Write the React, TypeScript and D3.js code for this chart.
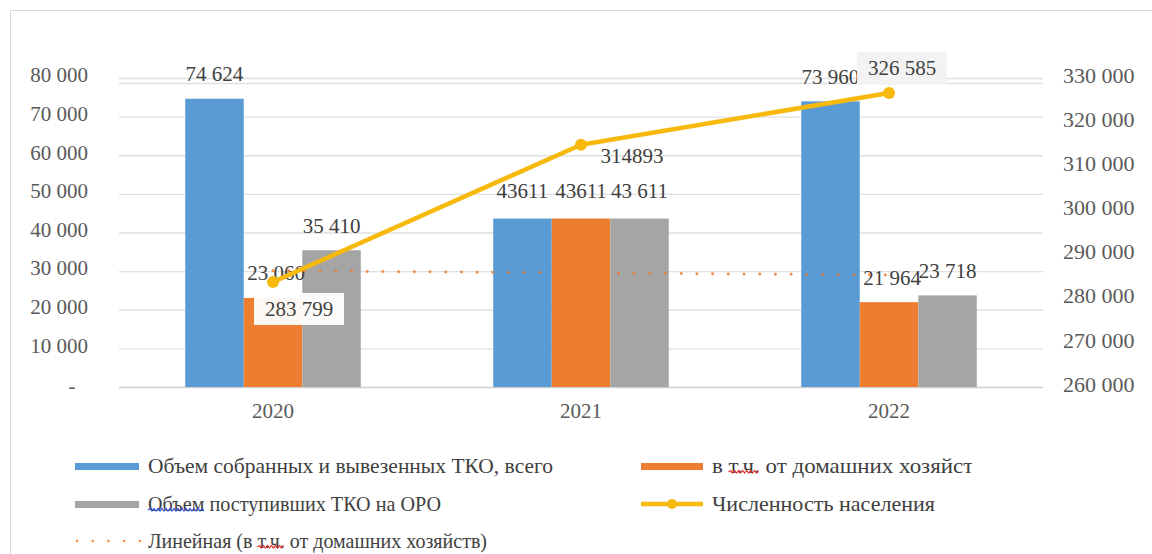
import React, { useLayoutEffect, useRef, useState } from 'react';
import * as d3 from 'd3';

// values
const years = ['2020', '2021', '2022'];
const collected = [74624, 43611, 73960];
const households = [23060, 43611, 21964];
const toORO = [35410, 43611, 23718];
const population = [283799, 314893, 326585];

const collectedLabels = ['74 624', '43611', '73 960'];
const householdLabels = ['23 060', '43611', '21 964'];
const oroLabels = ['35 410', '43 611', '23 718'];
const populationLabels = ['283 799', '314893', '326 585'];

const leftTicks = [0, 10000, 20000, 30000, 40000, 50000, 60000, 70000, 80000];
const rightTicks = [260000, 270000, 280000, 290000, 300000, 310000, 320000, 330000];

const seriesNames = [
  'Объем собранных и вывезенных ТКО, всего',
  'в т.ч. от домашних хозяйств',
  'Объем поступивших ТКО на ОРО',
  'Численность населения',
  'Линейная (в т.ч. от домашних хозяйств)',
];

const W = 1152;
const H = 554;
const FONT = '"Liberation Serif", "Times New Roman", serif';
const BLUE = '#5b9bd5';
const ORANGE = '#ed7d31';
const GREY = '#a5a5a5';
const GOLD = '#f6b90c';
const TEXT = '#404040';

const fmt = d3.formatLocale({ decimal: ',', thousands: ' ', grouping: [3], currency: ['', ''] }).format(',');

// legend text with the wavy spell-check underline under a part of it
function SpellText({ x, y, text, marks, clip, len }) {
  const ref = useRef(null);
  const [paths, setPaths] = useState([]);
  useLayoutEffect(() => {
    const el = ref.current;
    if (!el || !marks) return;
    const out = marks.map((m) => {
      const x0 = el.getStartPositionOfChar(m.start).x;
      const x1 = el.getEndPositionOfChar(m.end - 1).x;
      const p = d3.path();
      const yy = y + 6;
      p.moveTo(x0, yy);
      let up = true;
      for (let xx = x0 + 2; xx <= x1; xx += 2) {
        p.lineTo(xx, up ? yy - 1.5 : yy + 1);
        up = !up;
      }
      return { d: p.toString(), color: m.color };
    });
    setPaths(out);
  }, [text]);
  return (
    <g clipPath={clip}>
      <text
        ref={ref}
        x={x}
        y={y}
        dy="0.35em"
        fontSize={21}
        fill={TEXT}
        fontFamily={FONT}
        textLength={len}
        lengthAdjust="spacingAndGlyphs"
      >
        {text}
      </text>
      {paths.map((p, i) => (
        <path key={i} d={p.d} fill="none" stroke={p.color} strokeWidth={1.2} />
      ))}
    </g>
  );
}

export default function App() {
  const left = 119;
  const right = 1043;
  const top = 78;
  const bottom = 387;

  const x = d3.scaleBand().domain(years).range([left, right]).paddingInner(0.43).paddingOuter(0.215);
  const keys = ['collected', 'households', 'oro'];
  const xs = d3.scaleBand().domain(keys).range([0, x.bandwidth()]);
  const y = d3.scaleLinear().domain([0, 80000]).range([bottom, top]);
  const y2 = d3.scaleLinear().domain([260000, 330000]).range([bottom, top]);

  const series = [
    { key: 'collected', values: collected, labels: collectedLabels, color: BLUE },
    { key: 'households', values: households, labels: householdLabels, color: ORANGE },
    { key: 'oro', values: toORO, labels: oroLabels, color: GREY },
  ];

  const cx = (yr) => x(yr) + x.bandwidth() / 2;

  // linear trendline of households (x = 1..n)
  const n = households.length;
  const mx = (n + 1) / 2;
  const my = d3.mean(households);
  const slope =
    d3.sum(households, (v, i) => (i + 1 - mx) * (v - my)) / d3.sum(households, (v, i) => (i + 1 - mx) ** 2);
  const trend = [1, n].map((i) => [cx(years[i - 1]), y(my + slope * (i - mx))]);

  const popLine = d3
    .line()
    .x((d, i) => cx(years[i]))
    .y((d) => y2(d));

  // hand placed population labels (offset from the point)
  const popOffsets = [
    [26, 27, 'white'],
    [51, 11, null],
    [13, -25, '#f2f2f2'],
  ];

  return (
    <div>
      <style>{'body{margin:0}'}</style>
      <svg width={W} height={H} style={{ display: 'block', background: '#fff' }}>
        <defs>
          <clipPath id="legclip">
            <rect x={0} y={0} width={972} height={H} />
          </clipPath>
        </defs>
        <rect x={10.5} y={10.5} width={W + 20} height={H + 20} fill="none" stroke="#d9d9d9" />

        {/* gridlines */}
        {leftTicks.map((t) => (
          <line key={t} x1={left} x2={right} y1={y(t) + 0.5} y2={y(t) + 0.5} stroke={t === 0 ? '#d0d0d0' : '#e0e0e0'} strokeWidth={1.3} />
        ))}
        <line x1={left} x2={right} y1={y(80000) + 5.5} y2={y(80000) + 5.5} stroke="#e0e0e0" strokeWidth={1.3} />

        {/* left axis */}
        {leftTicks.map((t) =>
          t === 0 ? (
            <text key={t} x={72} y={y(t)} dy="0.3em" textAnchor="middle" fontSize={21} fill="#595959" fontFamily={FONT}>
              -
            </text>
          ) : (
            <text key={t} x={88} y={y(t) - 3} dy="0.35em" textAnchor="end" fontSize={21} fill="#595959" fontFamily={FONT}>
              {fmt(t)}
            </text>
          )
        )}
        {/* right axis */}
        {rightTicks.map((t) => (
          <text key={t} x={1063} y={y2(t) - 3} dy="0.35em" textAnchor="start" fontSize={22} fill="#595959" fontFamily={FONT}>
            {fmt(t)}
          </text>
        ))}
        {/* category axis */}
        {years.map((yr) => (
          <text key={yr} x={cx(yr)} y={411} dy="0.35em" textAnchor="middle" fontSize={21} fill="#595959" fontFamily={FONT}>
            {yr}
          </text>
        ))}

        {/* bars */}
        {series.map((s) =>
          s.values.map((v, i) => (
            <rect
              key={s.key + i}
              x={x(years[i]) + xs(s.key)}
              y={y(v)}
              width={xs.bandwidth()}
              height={y(0) - y(v)}
              fill={s.color}
            />
          ))
        )}

        {/* bar labels */}
        {series.map((s) =>
          s.values.map((v, i) => (
            <text
              key={'l' + s.key + i}
              x={x(years[i]) + xs(s.key) + xs.bandwidth() / 2 + (s.key === 'households' && i !== 1 ? 3 : 0)}
              y={y(v) + (i === 1 ? -28 : -25)}
              dy="0.35em"
              textAnchor="middle"
              fontSize={21}
              fill={TEXT}
              fontFamily={FONT}
            >
              {s.labels[i]}
            </text>
          ))
        )}

        {/* trendline */}
        <line
          x1={trend[0][0]}
          y1={trend[0][1]}
          x2={trend[1][0]}
          y2={trend[1][1]}
          stroke={ORANGE}
          strokeWidth={3}
          strokeLinecap="round"
          strokeDasharray="0.1 15.6"
          opacity={0.85}
        />

        {/* population line */}
        <path d={popLine(population)} fill="none" stroke={GOLD} strokeWidth={4.5} strokeLinejoin="round" />
        {population.map((v, i) => (
          <circle key={'p' + i} cx={cx(years[i])} cy={y2(v)} r={6} fill={GOLD} />
        ))}
        {population.map((v, i) => {
          const [dx, dy, bg] = popOffsets[i];
          const px = cx(years[i]) + dx;
          const py = y2(v) + dy;
          return (
            <g key={'pl' + i}>
              {bg && <rect x={px - 45} y={py - 16} width={90} height={32} fill={bg} opacity={0.95} />}
              <text x={px} y={py} dy="0.35em" textAnchor="middle" fontSize={21} fill={TEXT} fontFamily={FONT}>
                {populationLabels[i]}
              </text>
            </g>
          );
        })}

        {/* legend */}
        <rect x={75} y={463} width={64} height={7} fill={BLUE} />
        <SpellText x={148} y={466} text={seriesNames[0]} len={405} />
        <rect x={641} y={463} width={62} height={7} fill={ORANGE} />
        <SpellText
          x={712}
          y={466}
          text={seriesNames[1]}
          len={272}
          marks={[{ start: 2, end: 6, color: '#e03030' }]}
          clip="url(#legclip)"
        />
        <rect x={75} y={501} width={64} height={7} fill={GREY} />
        <SpellText x={148} y={504} text={seriesNames[2]} len={293} marks={[{ start: 0, end: 5, color: '#3050d0' }]} />
        <line x1={641} x2={703} y1={504} y2={504} stroke={GOLD} strokeWidth={4.5} />
        <circle cx={672} cy={504} r={5} fill={GOLD} />
        <SpellText x={712} y={504} text={seriesNames[3]} len={223} />
        <line
          x1={77}
          x2={140}
          y1={541}
          y2={541}
          stroke={ORANGE}
          strokeWidth={2.6}
          strokeLinecap="round"
          strokeDasharray="0.1 15.6"
          opacity={0.85}
        />
        <SpellText x={148} y={541} text={seriesNames[4]} len={339} marks={[{ start: 12, end: 16, color: '#e03030' }]} />
      </svg>
    </div>
  );
}
